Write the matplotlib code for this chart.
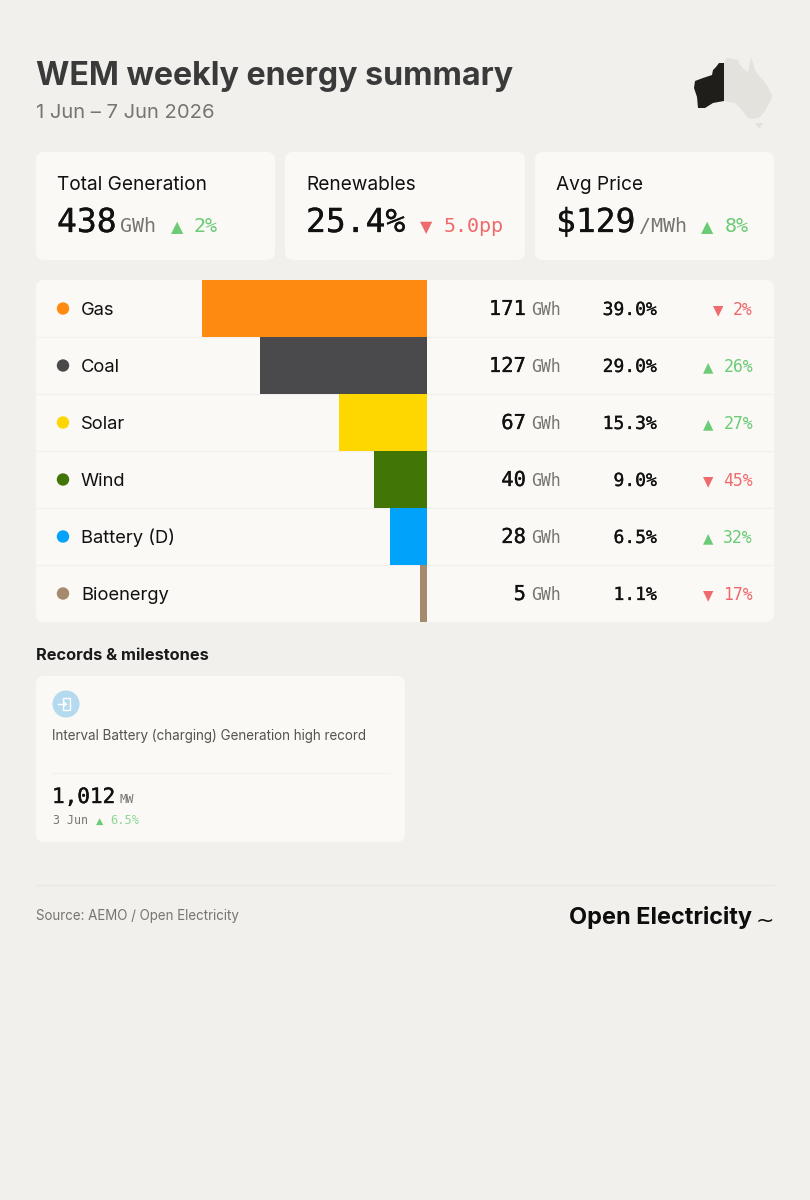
import matplotlib
matplotlib.use('Agg')
import matplotlib.pyplot as plt
import matplotlib.patheffects as pe
from matplotlib.patches import FancyBboxPatch, Polygon, Circle, Rectangle

# data
sources = ['Gas', 'Coal', 'Solar', 'Wind', 'Battery (D)', 'Bioenergy']
energy_gwh = [171, 127, 67, 40, 28, 5]
share_pct = ['39.0%', '29.0%', '15.3%', '9.0%', '6.5%', '1.1%']
change_pct = [-2, 26, 27, -45, 32, -17]
colours = ['#FE8A12', '#4A4A4D', '#FFD700', '#417505', '#00A2FA', '#A68A6E']

card_titles = ['Total Generation', 'Renewables', 'Avg Price']
card_values = ['438', '25.4%', '$129']
card_units = ['GWh', '', '/MWh']
card_changes = ['2%', '5.0pp', '8%']
card_up = [True, False, True]

SANS = 'Inter'
MONO = 'DejaVu Sans Mono'
BG = '#F1F0ED'
CARD = '#FAF9F6'
INK = '#111111'
GREY = '#77756F'
GREEN = '#6CCB76'
RED = '#EE6A6C'

fig = plt.figure(figsize=(8.1, 12), dpi=100, facecolor=BG)
ax = fig.add_axes([0, 0, 1, 1])
ax.set_xlim(0, 810)
ax.set_ylim(1200, 0)
ax.axis('off')


def px(size):
    return size * 0.72


def txt(x, y, s, size, color=INK, family=SANS, ha='left', weight='normal', stroke=0):
    t = ax.text(x, y, s, fontsize=px(size), color=color, family=family, ha=ha,
                va='baseline', fontweight=weight)
    if stroke:
        # the mono digits in the reference are heavier than DejaVu regular
        t.set_path_effects([pe.withStroke(linewidth=stroke, foreground=color)])
    return t


def card(x0, y0, x1, y1):
    ax.add_patch(FancyBboxPatch((x0 + 8, y0 + 8), x1 - x0 - 16, y1 - y0 - 16,
                                boxstyle='round,pad=8,rounding_size=8', fc=CARD, ec='none'))


def arrow(x, y, up, size):
    txt(x, y, '▲' if up else '▼', size, GREEN if up else RED, 'DejaVu Sans', 'center')


# header
txt(36, 85, 'WEM weekly energy summary', 32.2, '#3A3A3A', weight='bold')
txt(36, 118, '1 Jun – 7 Jun 2026', 20.2, GREY)

# map of Australia, rough outline
rest = [(724, 62), (727, 58), (733, 59), (738, 60), (740, 65), (745, 70), (748, 72), (750, 62),
        (751, 57), (753, 63), (755, 70), (759, 76), (763, 80), (768, 87), (772, 95), (771, 100),
        (768, 105), (765, 111), (760, 117), (754, 119), (748, 118), (744, 113), (740, 108),
        (735, 103), (724, 101)]
tas = [(755, 123), (763, 123), (759, 129)]
wa = [(724, 63), (719, 63), (716, 67), (713, 70), (712, 75), (703, 78), (695, 81), (694, 88),
      (697, 97), (698, 108), (705, 108), (713, 103), (724, 101)]
ax.add_patch(Polygon(rest, fc='#E4E2DC', ec='none'))
ax.add_patch(Polygon(tas, fc='#E4E2DC', ec='none'))
ax.add_patch(Polygon(wa, fc='#201E1A', ec='none'))

# summary cards
card_left = [36, 285, 535]
card_right = [275, 525, 774]
for i in range(3):
    card(card_left[i], 152, card_right[i], 260)
    x = card_left[i] + 21
    txt(x, 190, card_titles[i], 19.1)
    t = txt(x, 232, card_values[i], 33, family=MONO, stroke=0.2)
    fig.canvas.draw()
    end = t.get_window_extent().x1
    if card_units[i]:
        u = txt(end + 3, 232, card_units[i], 20, GREY, MONO)
        fig.canvas.draw()
        end = u.get_window_extent().x1
    arrow(end + 21, 232, card_up[i], 16)
    txt(end + 38, 232, card_changes[i], 20, GREEN if card_up[i] else RED, MONO)

# table
card(36, 280, 774, 622)
for i in range(1, 6):
    ax.plot([36, 774], [280 + 57 * i] * 2, color='#F2F1EE', lw=1)

bar_ax = fig.add_axes([36 / 810, 1 - 622 / 1200, (427 - 36) / 810, 342 / 1200])
bar_ax.patch.set_alpha(0)
bar_ax.axis('off')
bar_ax.barh(range(len(sources)), energy_gwh, height=0.985, color=colours)
bar_ax.set_xlim((427 - 36) / 1.316, 0)
bar_ax.set_ylim(len(sources) - 0.5, -0.5)

for i, name in enumerate(sources):
    yc = 308.5 + 57 * i
    base = yc + 6.5
    ax.add_patch(Circle((63, yc), 6.2, fc=colours[i], ec='none'))
    txt(81, base, name, 18.4)
    txt(526, base, str(energy_gwh[i]), 20.5, family=MONO, ha='right', stroke=0.2)
    txt(531, base, 'GWh', 16.5, GREY, MONO)
    txt(657, base, share_pct[i], 18, family=MONO, ha='right', stroke=0.2)
    up = change_pct[i] > 0
    label = f'{abs(change_pct[i])}%'
    c = GREEN if up else RED
    txt(753, base, label, 16.5, c, MONO, 'right')
    arrow(753 - len(label) * 9.9 - 15, base - 1, up, 13.5)

# records
txt(36, 660, 'Records & milestones', 16.4, '#1A1A1A', weight='bold')
card(36, 676, 405, 842)
ax.add_patch(Circle((66, 704), 13.5, fc='#B5D9EF', ec='none'))
ax.add_patch(Rectangle((63, 698), 7, 12, fc='none', ec='white', lw=1))
ax.plot([58, 66], [704, 704], color='white', lw=1)
ax.plot([64, 66, 64], [702, 704, 706], color='white', lw=1)
txt(52.5, 740, 'Interval Battery (charging) Generation high record', 13.45, '#55534F')
ax.plot([52, 389], [773, 773], color='#F3F2EF', lw=1)
txt(52, 803, '1,012', 21, family=MONO, stroke=0.3)
txt(120, 803, 'MW', 12, GREY, MONO)
txt(53, 824, '3 Jun', 11.6, GREY, MONO)
arrow(99.5, 824, True, 9.5)
txt(110, 824, '6.5%', 12, '#8ED596', MONO)

# footer
ax.plot([36, 774], [884.5, 884.5], color='#E9E8E4', lw=1)
txt(36, 920, 'Source: AEMO / Open Electricity', 13.35, GREY)
txt(569, 924, 'Open Electricity', 23.5, '#0D0D0D', weight='bold')
txt(756, 927, '~', 22, '#0D0D0D', 'DejaVu Sans')

fig.savefig('out.png', dpi=100, facecolor=BG)
